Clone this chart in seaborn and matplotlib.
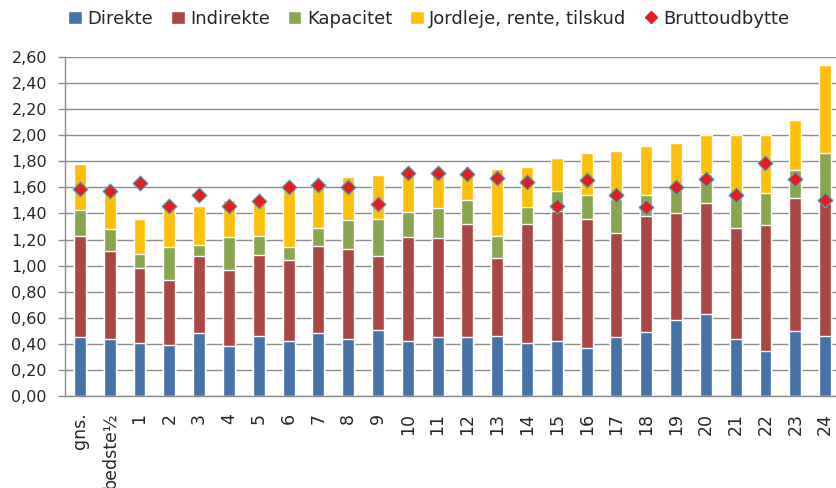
import numpy as np
import pandas as pd
import matplotlib
matplotlib.use("Agg")
import matplotlib.pyplot as plt
import seaborn as sns
from matplotlib.patches import Patch
from matplotlib.lines import Line2D

# Data
kategorier = ["gns.", "bedste½"] + [str(i) for i in range(1, 25)]
direkte = [0.45, 0.44, 0.41, 0.39, 0.48, 0.38, 0.46, 0.42, 0.48, 0.44, 0.51, 0.42, 0.45,
           0.45, 0.46, 0.41, 0.42, 0.37, 0.45, 0.49, 0.58, 0.63, 0.44, 0.345, 0.50, 0.46]
indirekte = [0.78, 0.67, 0.57, 0.50, 0.59, 0.59, 0.62, 0.62, 0.67, 0.69, 0.565, 0.80, 0.76,
             0.87, 0.60, 0.91, 1.00, 0.99, 0.80, 0.89, 0.82, 0.85, 0.85, 0.97, 1.02, 1.04]
kapacitet = [0.20, 0.17, 0.11, 0.25, 0.09, 0.25, 0.15, 0.10, 0.14, 0.22, 0.28, 0.19, 0.23,
             0.18, 0.17, 0.13, 0.155, 0.18, 0.26, 0.16, 0.20, 0.22, 0.25, 0.245, 0.21, 0.36]
jordleje = [0.35, 0.30, 0.27, 0.30, 0.30, 0.28, 0.27, 0.46, 0.33, 0.33, 0.34, 0.29, 0.28,
            0.21, 0.51, 0.31, 0.25, 0.32, 0.37, 0.375, 0.34, 0.30, 0.46, 0.445, 0.39, 0.68]
bruttoudbytte = [1.59, 1.575, 1.63, 1.46, 1.54, 1.46, 1.495, 1.60, 1.615, 1.60, 1.47, 1.71, 1.71,
                 1.705, 1.67, 1.645, 1.46, 1.66, 1.54, 1.45, 1.605, 1.665, 1.545, 1.785, 1.665, 1.505]

serier = ["Direkte", "Indirekte", "Kapacitet", "Jordleje, rente, tilskud"]
farver = ["#4572A7", "#AA4643", "#89A54E", "#FCBF0A"]

df = pd.DataFrame({"kat": kategorier, "Direkte": direkte, "Indirekte": indirekte,
                   "Kapacitet": kapacitet, "Jordleje, rente, tilskud": jordleje,
                   "Bruttoudbytte": bruttoudbytte})
# kumulerede summer til stablede søjler
kum = df[serier].cumsum(axis=1)

sns.set_theme(style="white")
plt.rcParams["font.family"] = ["DejaVu Sans"]

fig = plt.figure(figsize=(8.36, 4.88), dpi=100)
ax = fig.add_axes([65 / 836, 92 / 488, 775 / 836, 339 / 488])

grid_farve = "#8c8c8c"
ax.set_axisbelow(True)
ax.yaxis.grid(True, color=grid_farve, linewidth=1.0)

# tegn fra øverste kumulerede niveau og ned
for s, f in reversed(list(zip(serier, farver))):
    sns.barplot(x=df["kat"], y=kum[s], order=kategorier, color=f, saturation=1,
                width=0.4, errorbar=None, ax=ax, zorder=2)

ax.scatter(np.arange(len(kategorier)), df["Bruttoudbytte"], marker="D", s=58,
           color="#E41E1E", edgecolors="#4BACC6", linewidths=0.8, zorder=5)

ax.set_xlim(-0.5, len(kategorier) - 0.5)
ax.set_ylim(0, 2.6)
ax.set_yticks(np.arange(0, 2.61, 0.2))
ax.set_yticklabels([f"{v:.2f}".replace(".", ",") for v in np.arange(0, 2.61, 0.2)], fontsize=11.5)
ax.set_xticks(range(len(kategorier)))
ax.set_xticklabels(kategorier, rotation=90, fontsize=12.5)
ax.set_xticks(np.arange(-0.5, len(kategorier), 1), minor=True)
ax.tick_params(axis="x", which="major", length=0, pad=12)
ax.tick_params(axis="x", which="minor", length=5, color=grid_farve, width=1)
ax.tick_params(axis="y", length=5, color=grid_farve, width=1, pad=8, left=True)
ax.set_xlabel("")
ax.set_ylabel("")

for side in ["top", "right"]:
    ax.spines[side].set_visible(False)
for side in ["left", "bottom"]:
    ax.spines[side].set_color(grid_farve)
    ax.spines[side].set_linewidth(1.0)

handles = [Patch(facecolor=f, label=s) for s, f in zip(serier, farver)]
handles.append(Line2D([], [], marker="D", linestyle="none", color="#E41E1E",
                      markersize=6, label="Bruttoudbytte"))
fig.legend(handles=handles, loc="center", bbox_to_anchor=(0.513, 0.962), ncol=5,
           frameon=False, fontsize=13, handlelength=0.75, handleheight=0.75,
           handletextpad=0.3, columnspacing=1.0)

fig.savefig("out.png", dpi=100)
